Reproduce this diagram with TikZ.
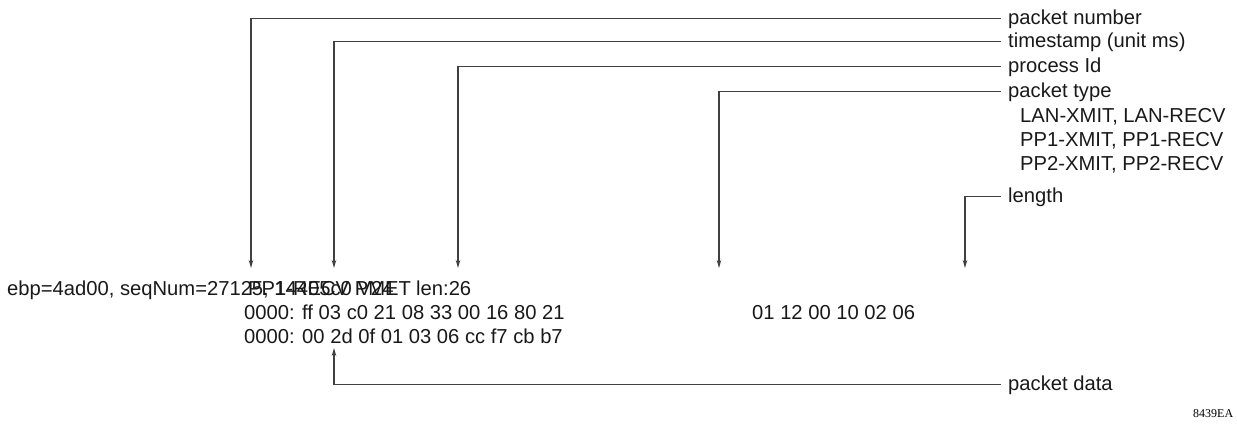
\documentclass[tikz,border=0pt]{standalone}
\usepackage{fontspec}
\setmainfont{Liberation Sans}
\newfontfamily\smallserif{Liberation Serif}
\usetikzlibrary{arrows.meta}
\begin{document}
\begin{tikzpicture}[x=1pt,y=-1pt,
  lbl/.style={anchor=base west,inner sep=0pt,font=\fontsize{20.2}{24}\selectfont,text=black!90},
  conn/.style={line width=1.1pt,draw=black!75,-{Stealth[length=8pt,width=4.5pt]}},
]
\useasboundingbox (0,0) rectangle (1237,426);
% right-hand labels
\node[lbl] (pn)  at (1008,24)  {packet number};
\node[lbl] (ts)  at (1008,47)  {timestamp (unit ms)};
\node[lbl] (pid) at (1008,72)  {process Id};
\node[lbl] (pt)  at (1008,97)  {packet type};
\node[lbl] (t1)  at (1020,122) {LAN-XMIT, LAN-RECV};
\node[lbl] (t2)  at (1020,146) {PP1-XMIT, PP1-RECV};
\node[lbl] (t3)  at (1020,170) {PP2-XMIT, PP2-RECV};
\node[lbl] (len) at (1008,202) {length};
\node[lbl] (pd)  at (1008,390) {packet data};
% dump text
\node[lbl] (l1a) at (7,295)   {ebp=4ad00, seqNum=27125, 14405c0 V24};
\node[lbl] (l1b) at (248,295) {PP1-RECV PMET};
\node[lbl] (l1c) at (416,295) {len:26};
\node[lbl] (l2)  at (244,319) {0000: ff 03 c0 21 08 33 00 16 80 21};
\node[lbl] (l2b) at (752,319) {01 12 00 10 02 06};
\node[lbl] (l3)  at (244,343) {0000: 00 2d 0f 01 03 06 cc f7 cb b7};
\node[anchor=base west,inner sep=0pt,font=\smallserif\fontsize{12}{14}\selectfont] (fig) at (1193,417) {8439EA};
% arrow tips
\coordinate (tpn)  at (251,268);
\coordinate (tts)  at (334,268);
\coordinate (tpid) at (458,268);
\coordinate (tpt)  at (719,268);
\coordinate (tlen) at (965,268);
\coordinate (tpd)  at (334,348);
% connectors
\draw[conn] ([xshift=-7pt]pn.west)  -| (tpn);
\draw[conn] ([xshift=-7pt]ts.west)  -| (tts);
\draw[conn] ([xshift=-7pt]pid.west) -| (tpid);
\draw[conn] ([xshift=-7pt]pt.west)  -| (tpt);
\draw[conn] ([xshift=-7pt]len.west) -| (tlen);
\draw[conn] ([xshift=-7pt]pd.west)  -| (tpd);
\end{tikzpicture}
\end{document}
